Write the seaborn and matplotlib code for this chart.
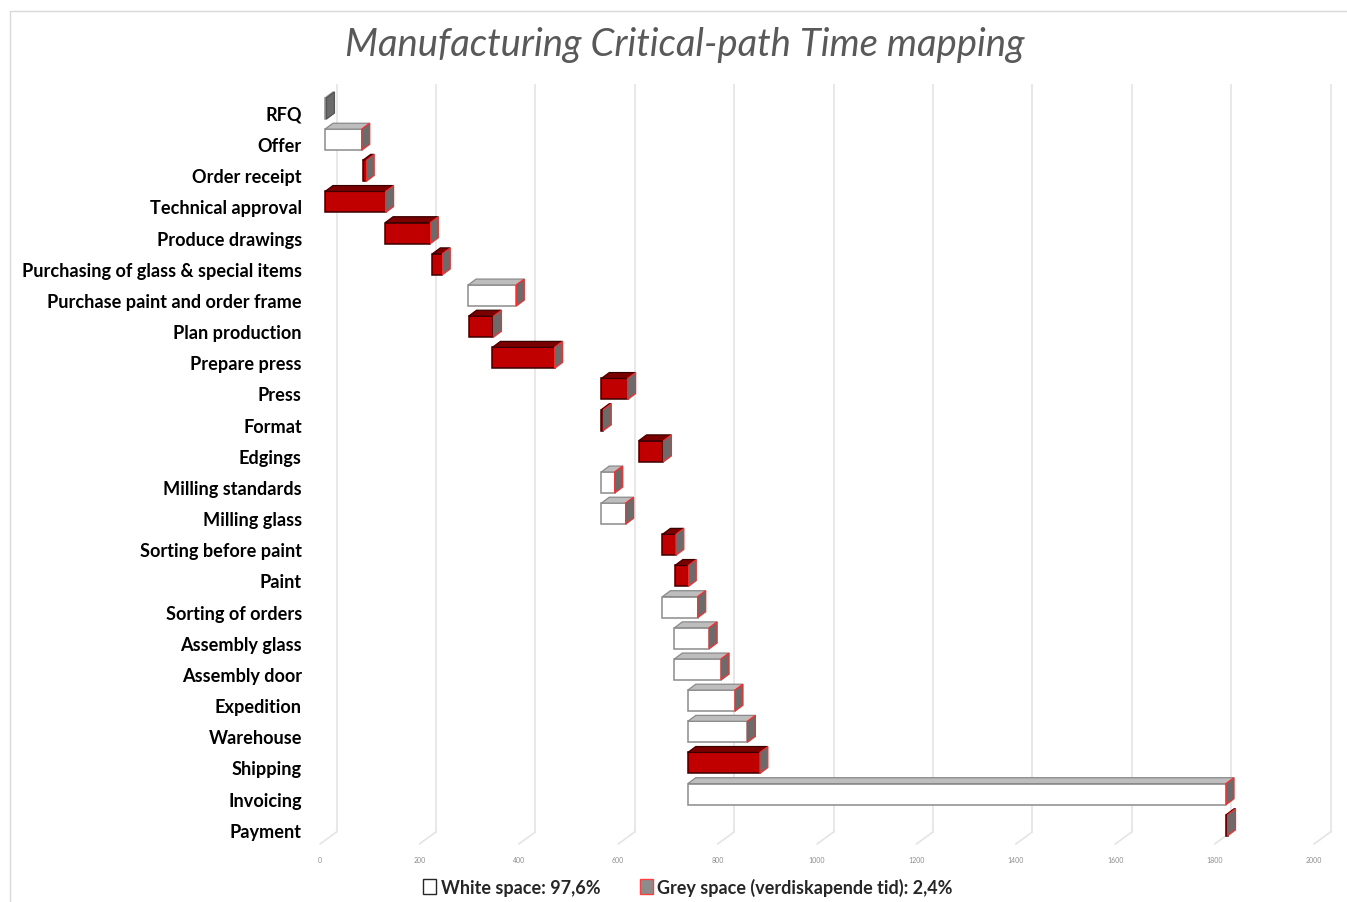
import matplotlib
matplotlib.use('Agg')
import matplotlib.pyplot as plt
import matplotlib.transforms as mtransforms
from matplotlib.patches import Polygon, Patch
from matplotlib.lines import Line2D
import pandas as pd
import seaborn as sns

# Data (days from start of RFQ)
tasks = ['RFQ', 'Offer', 'Order receipt', 'Technical approval', 'Produce drawings',
         'Purchasing of glass & special items', 'Purchase paint and order frame',
         'Plan production', 'Prepare press', 'Press', 'Format', 'Edgings',
         'Milling standards', 'Milling glass', 'Sorting before paint', 'Paint',
         'Sorting of orders', 'Assembly glass', 'Assembly door', 'Expedition',
         'Warehouse', 'Shipping', 'Invoicing', 'Payment']
start = [0, 0, 76, 0, 121, 216, 288, 289, 337, 556, 556, 631,
         556, 556, 679, 704, 679, 703, 703, 730, 730, 730, 730, 1813]
duration = [3, 74, 7, 122, 91, 20, 97, 50, 125, 53, 4, 50,
            27, 49, 27, 27, 71, 70, 94, 95, 120, 145, 1083, 3]
kind = ['white', 'white', 'red', 'red', 'red', 'red', 'white', 'red', 'red', 'red', 'red', 'red',
        'white', 'white', 'red', 'red', 'white', 'white', 'white', 'white', 'white', 'red', 'white', 'red']
xticks = [0, 200, 400, 600, 800, 1000, 1200, 1400, 1600, 1800, 2000]
legend_labels = ['White space: 97,6%', 'Grey space (verdiskapende tid): 2,4%']
title = 'Manufacturing Critical-path Time mapping'

df = pd.DataFrame({'task': tasks, 'start': start, 'duration': duration, 'kind': kind})

sns.set_style('white')
plt.rcParams['font.family'] = ['Lato', 'DejaVu Sans']

W, H = 1347, 903
fig = plt.figure(figsize=(W / 100, H / 100), dpi=100)
ax = fig.add_axes([315.06 / W, 58 / H, 1028.8 / W, 760 / H])

bar_h = 0.674
sns.barplot(data=df, x='duration', y='task', hue='kind', dodge=False, legend=False,
            palette={'white': 'white', 'red': '#c00000'}, width=bar_h, ax=ax,
            saturation=1)

ax.set_xlim(-20, 2050)
ax.set_ylim(23.6, -0.786)

# depth of the 3D boxes in data units
dx, dy = 16, 0.19
front_edge = {'white': '#8c8c8c', 'red': '#3a0000'}
top_face = {'white': '#bdbdbd', 'red': '#7a0000'}
top_edge = {'white': '#8a8a8a', 'red': '#3a0000'}

for p in list(ax.patches):
    idx = int(round(p.get_y() + p.get_height() / 2))
    k = kind[idx]
    p.set_x(start[idx])
    p.set_edgecolor(front_edge[k])
    p.set_linewidth(1.1)
    p.set_zorder(3)
    x0, x1 = p.get_x(), p.get_x() + p.get_width()
    yt, yb = p.get_y(), p.get_y() + p.get_height()
    side_edge = '#555555' if idx == 0 else '#ff2a2a'
    top = Polygon([(x0, yt), (x0 + dx, yt - dy), (x1 + dx, yt - dy), (x1, yt)],
                  closed=True, facecolor=top_face[k], edgecolor=top_edge[k], lw=0.9, zorder=3)
    side = Polygon([(x1, yt), (x1 + dx, yt - dy), (x1 + dx, yb - dy), (x1, yb)],
                   closed=True, facecolor='#6b6b6b', edgecolor=side_edge, lw=0.9, zorder=4)
    ax.add_patch(top)
    ax.add_patch(side)

# back wall gridlines and floor slants
back_off, front_off = 23.5, -10
y_back, y_front = 23.21, 23.6
for t in xticks:
    ax.plot([t + back_off, t + back_off], [-0.786, y_back], color='#e4e4e4', lw=1.2, zorder=1)
    ax.plot([t + back_off, t + front_off], [y_back, y_front], color='#e4e4e4', lw=1.2, zorder=1,
            clip_on=False)

ax.set_xticks(xticks)
ax.set_xticklabels([str(t) for t in xticks], fontsize=5, color='#8c8c8c')
ax.tick_params(axis='x', length=0, pad=9)
for lab in ax.get_xticklabels():
    lab.set_transform(lab.get_transform() + mtransforms.ScaledTranslation(-0.05, 0, fig.dpi_scale_trans))

ax.tick_params(axis='y', length=0, pad=9.5)
for lab in ax.get_yticklabels():
    lab.set_fontsize(13.1)
    lab.set_fontweight('bold')
    lab.set_color('black')
    lab.set_transform(lab.get_transform() + mtransforms.ScaledTranslation(0, -0.045, fig.dpi_scale_trans))

ax.set_xlabel('')
ax.set_ylabel('')
for s in ax.spines.values():
    s.set_visible(False)
ax.grid(False)

fig.text(684.5 / W, 1 - 45 / H, title, ha='center', va='center', fontsize=27.5,
         style='italic', color='#595959')

handles = [Patch(facecolor='white', edgecolor='#262626', lw=1.0),
           Patch(facecolor='#8c8c8c', edgecolor='#ff4040', lw=1.0)]
leg = fig.legend(handles, legend_labels, loc='center', bbox_to_anchor=(688 / W, 1 - 888 / H),
                 ncol=2, frameon=False, handlelength=0.7, handleheight=0.9, handletextpad=0.25,
                 columnspacing=2.2, prop={'weight': 'bold', 'size': 13})

# chart-area border (left and top edges visible)
fig.add_artist(Line2D([10 / W, 10 / W], [0, 1 - 12 / H], color='#d9d9d9', lw=1, transform=fig.transFigure))
fig.add_artist(Line2D([10 / W, 1], [1 - 12 / H, 1 - 12 / H], color='#d9d9d9', lw=1, transform=fig.transFigure))

fig.savefig('out.png', dpi=100)
